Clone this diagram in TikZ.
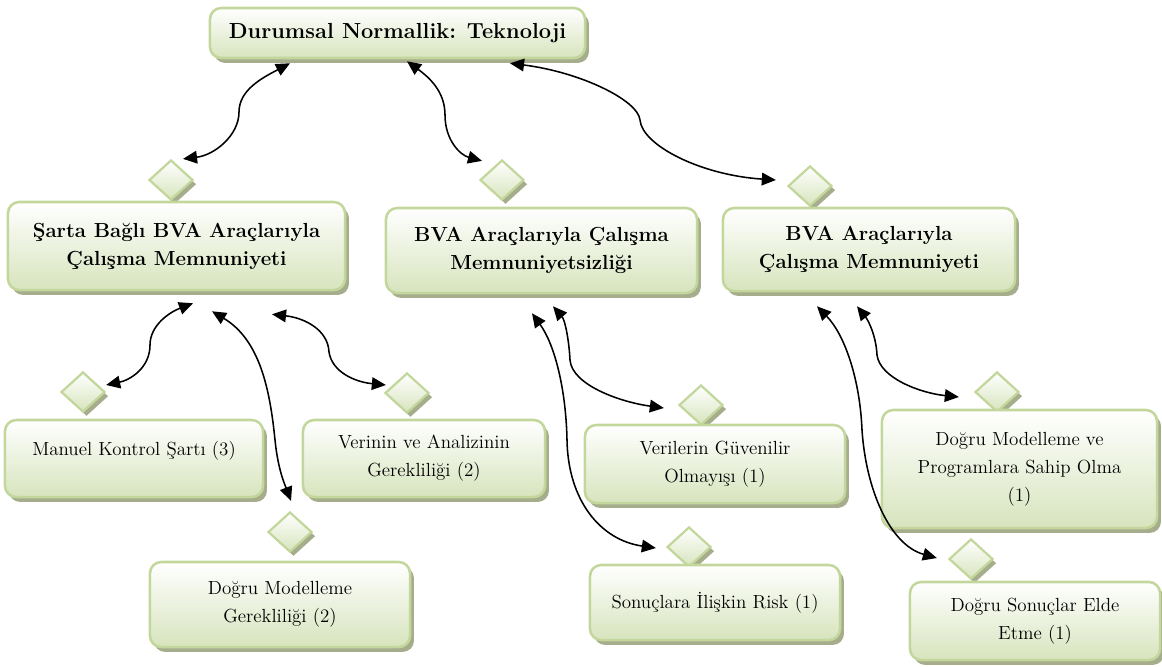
\documentclass[tikz,border=0pt]{standalone}
\usepackage{fontspec}
\usepackage{tikz}
\usetikzlibrary{arrows.meta,calc,shapes.geometric,shadows}
\definecolor{boxline}{HTML}{C3D69B}
\definecolor{boxfill}{HTML}{D7E4BD}
\definecolor{boxshade}{HTML}{A6AD8C}

\begin{document}
\begin{tikzpicture}[x=0.025cm,y=-0.025cm,
  card/.style={rectangle,rounded corners=8pt,draw=boxline,line width=1.8pt,top color=white,bottom color=boxfill,
    drop shadow={shadow xshift=2.8pt,shadow yshift=-3.5pt,fill=boxshade,opacity=1},align=center,inner sep=2pt},
  cardtitle/.style={card,font=\fontsize{14.5}{20}\selectfont\bfseries},
  cardtext/.style={card,font=\fontsize{13.5}{20}\selectfont},
  knot/.style={diamond,draw=boxline,line width=1.6pt,top color=white,bottom color=boxfill,
    drop shadow={shadow xshift=2.5pt,shadow yshift=-3pt,fill=boxshade,opacity=1},
    minimum width=1.1cm,minimum height=1cm,inner sep=0pt},
  twoway/.style={line width=1.1pt,<->,>={Triangle[length=10pt,width=9pt]}}]
  \useasboundingbox (0,0) rectangle (1162,666);

  % top level
  \node[cardtitle,font=\fontsize{15.5}{20}\selectfont\bfseries,minimum width=9.375cm,minimum height=1.25cm] (top) at (397.5,33) {Durumsal Normallik: Teknoloji};

  % second level
  \node[knot] (dsarta) at (171,180) {};
  \node[knot] (dmemsiz) at (502,180) {};
  \node[knot] (dmemnun) at (810,186) {};
  \node[cardtitle,minimum width=8.425cm,minimum height=2.2cm] (sarta) at (176.5,246) {Şarta Bağlı BVA Araçlarıyla\\Çalışma Memnuniyeti};
  \node[cardtitle,minimum width=7.775cm,minimum height=2.125cm] (memsiz) at (541.5,250.5) {BVA Araçlarıyla Çalışma\\Memnuniyetsizliği};
  \node[cardtitle,minimum width=7.3cm,minimum height=2.075cm] (memnun) at (869,249.5) {BVA Araçlarıyla\\Çalışma Memnuniyeti};

  % third level
  \node[knot] (dmanuel) at (83,392) {};
  \node[knot] (dverinin) at (407,393) {};
  \node[knot] (dmg) at (290,532) {};
  \node[knot] (dverilerin) at (701,405) {};
  \node[knot] (dsonuc) at (689,547) {};
  \node[knot] (ddmp) at (997,392) {};
  \node[knot] (ddse) at (971,559) {};
  \node[cardtext,minimum width=6.45cm,minimum height=1.925cm] (manuel) at (134,458.5) {Manuel Kontrol Şartı (3)\\[-5pt]\mbox{}};
  \node[cardtext,minimum width=6.05cm,minimum height=1.925cm] (verinin) at (424,458.5) {Verinin ve Analizinin\\Gerekliliği (2)};
  \node[cardtext,minimum width=6.5cm,minimum height=2.125cm] (dmgbox) at (280,604.5) {Doğru Modelleme\\Gerekliliği (2)};
  \node[cardtext,minimum width=6.5cm,minimum height=1.95cm] (verilerin) at (715,464) {Verilerin Güvenilir\\Olmayışı (1)};
  \node[cardtext,minimum width=6.25cm,minimum height=1.875cm] (sonuc) at (715,602.5) {Sonuçlara İlişkin Risk (1)};
  \node[cardtext,minimum width=6.875cm,minimum height=2.95cm] (dmp) at (1019.5,469) {Doğru Modelleme ve\\Programlara Sahip Olma\\(1)};
  \node[cardtext,minimum width=6.25cm,minimum height=1.95cm] (dse) at (1035,621) {Doğru Sonuçlar Elde\\Etme (1)};

  % links
  \draw[twoway] ($(top.south)+(-107.5,4)$) .. controls (262,78) and (239,90) .. (239,112) .. controls (239,135) and (215,155) .. ($(dsarta.north)+(12,0)$);
  \draw[twoway] ($(top.south)+(9.5,2)$) .. controls (430,78) and (445,92) .. (445,115) .. controls (445,140) and (460,155) .. ($(dmemsiz.north)+(-20,2)$);
  \draw[twoway] ($(top.south)+(112.5,4)$) .. controls (580,72) and (638,100) .. (640,120) .. controls (642,145) and (700,175) .. ($(dmemnun.west)+(-11,-6)$);

  \draw[twoway] ($(sarta.south)+(16.5,12)$) .. controls (170,312) and (150,325) .. (150,345) .. controls (150,368) and (130,380) .. ($(dmanuel.east)+(0,-7)$);
  \draw[twoway] ($(sarta.south)+(35.5,20)$) .. controls (260,340) and (270,390) .. (275,440) .. controls (278,470) and (285,485) .. ($(dmg.north)+(1,-10)$);
  \draw[twoway] ($(sarta.south)+(95.5,23)$) .. controls (305,318) and (328,330) .. (329,352) .. controls (332,372) and (355,382) .. ($(dverinin.west)+(2,-8)$);

  \draw[twoway] ($(memsiz.south)+(-9.5,19)$) .. controls (555,345) and (566,390) .. (567,440) .. controls (568,500) and (600,540) .. ($(dsonuc.west)+(-10,1)$);
  \draw[twoway] ($(memsiz.south)+(11.5,12)$) .. controls (565,320) and (569,340) .. (570,360) .. controls (572,385) and (620,402) .. ($(dverilerin.west)+(-14,3)$);

  \draw[twoway] ($(memnun.south)+(-52,14)$) .. controls (845,335) and (860,380) .. (862,430) .. controls (866,490) and (890,545) .. ($(ddse.west)+(-11,-1)$);
  \draw[twoway] ($(memnun.south)+(-12,14)$) .. controls (868,320) and (876,335) .. (877,355) .. controls (880,378) and (920,393) .. ($(ddmp.west)+(-15,5)$);
\end{tikzpicture}
\end{document}
